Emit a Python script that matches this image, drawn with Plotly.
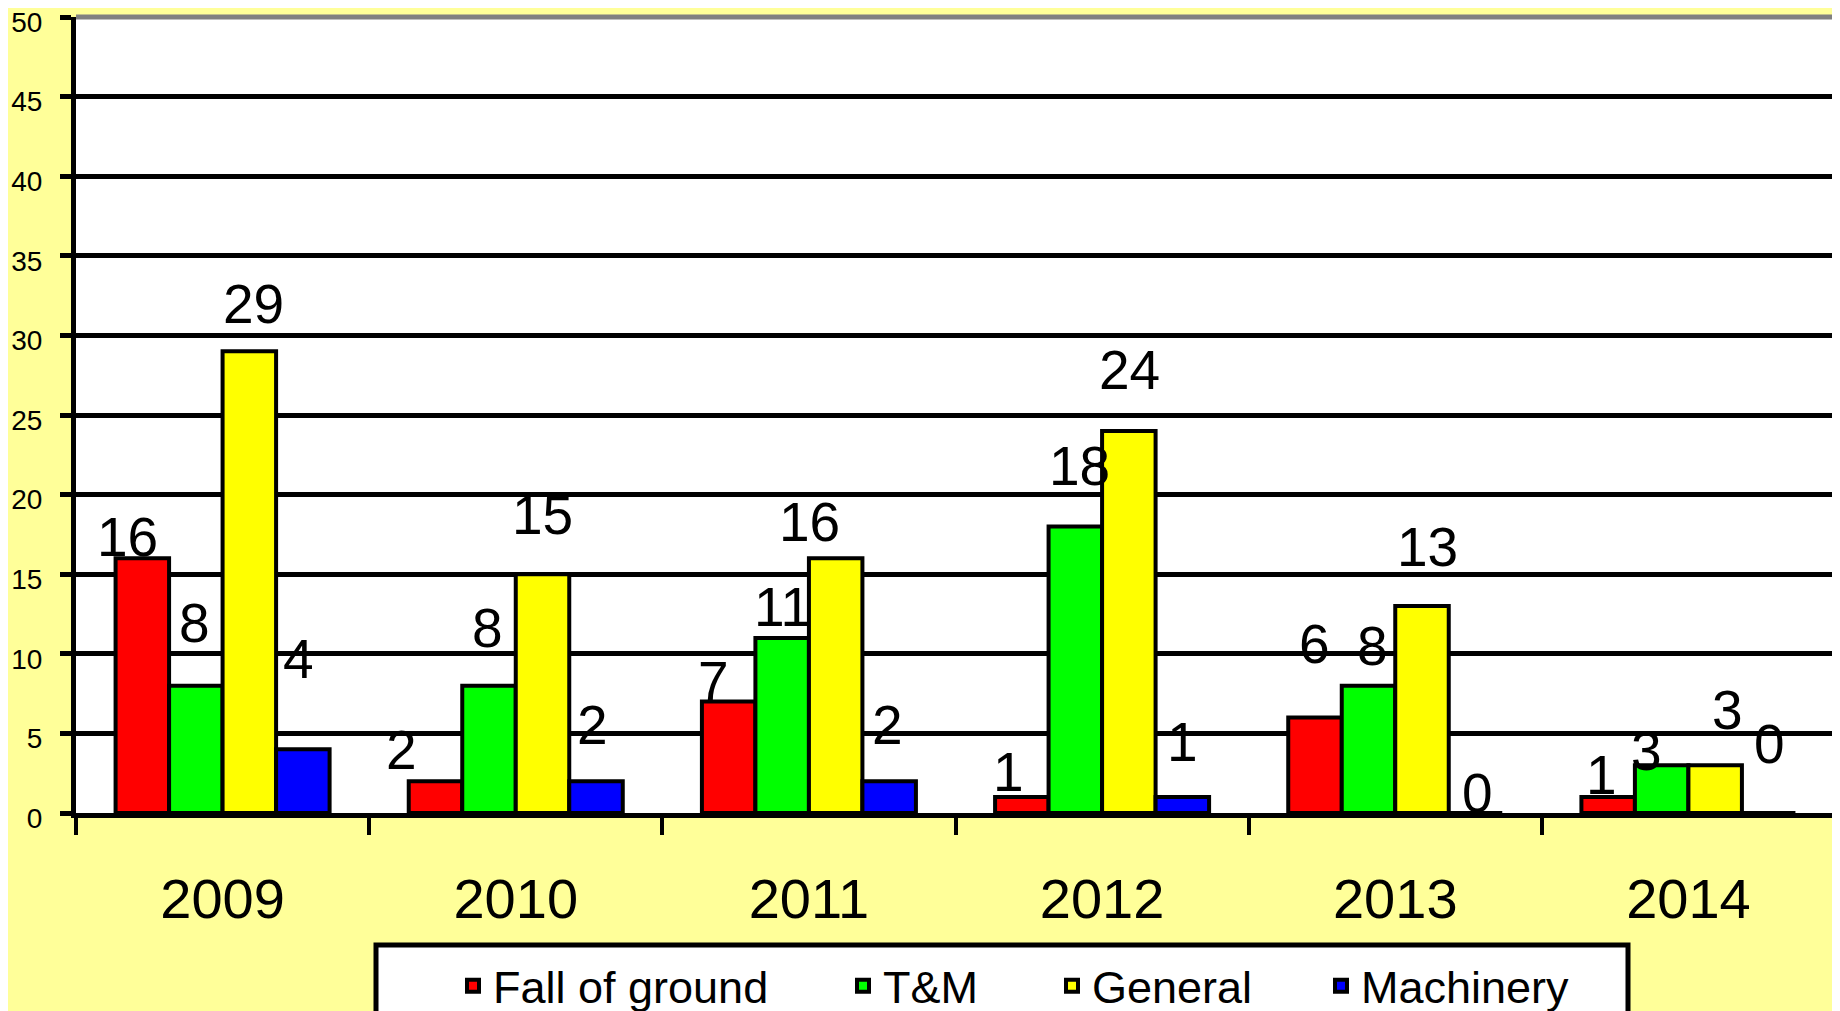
import plotly.graph_objects as go

# Data
years = ["2009", "2010", "2011", "2012", "2013", "2014"]
fall_of_ground = [16, 2, 7, 1, 6, 1]
t_and_m = [8, 8, 11, 18, 8, 3]
general = [29, 15, 16, 24, 13, 3]
machinery = [4, 2, 2, 1, 0, 0]

series_names = ["Fall of ground", "T&M", "General", "Machinery"]
series_values = [fall_of_ground, t_and_m, general, machinery]
series_colors = ["#FF0000", "#00FF00", "#FFFF00", "#0000FF"]

# label nudges in px (Excel placed them by hand)
label_dx = [[-15, -34, -15, -13, 0, -7],
            [-1, -1, 0, 4, 4, -15],
            [4, 0, -26, 1, 5, 12],
            [-4, -4, -2, 0, 2, 1]]
label_up = [[21, 31, 21, 25, 73, 22],
            [63, 58, 31, 60, 40, 14],
            [47, 59, 36, 61, 59, 55],
            [90, 56, 56, 55, 20, 69]]

# legend entry text starts (page px), the legend is spread like Excel's
legend_text_x = [493, 883, 1092, 1361]

font = "Liberation Sans, Arial, sans-serif"
W, H = 1840, 1011
ml, mr, mt, mb = 68, 13, 9, 206   # page has an 8px body margin
plot_w = W - ml - mr
plot_h = H - mt - mb
bargap = 0.27
cat_w = plot_w / len(years)
bar_w = cat_w * (1 - bargap) / 4


def px_x(x):  # page px -> paper x
    return (x - 8 - ml) / plot_w


def px_y(y):  # page px -> paper y
    return (H - mb - (y - 8)) / plot_h


fig = go.Figure()
legend_ids = ["legend", "legend2", "legend3", "legend4"]
for name, vals, col, lg in zip(series_names, series_values, series_colors, legend_ids):
    fig.add_trace(go.Bar(
        x=years,
        y=vals,
        name=name,
        legend=lg,
        marker=dict(color=col, line=dict(color="black", width=4)),
    ))

# Data labels (x given as category index, since the years look numeric)
annotations = []
for s, vals in enumerate(series_values):
    shift = (s - 1.5) * bar_w
    for i, v in enumerate(vals):
        annotations.append(dict(
            x=i, y=v, text=str(v), showarrow=False,
            xshift=shift + label_dx[s][i], yshift=label_up[s][i],
            font=dict(family=font, size=55, color="black"),
        ))

legend_style = dict(
    orientation="h",
    xanchor="left",
    y=px_y(950), yanchor="top",
    bgcolor="rgba(0,0,0,0)",
    borderwidth=0,
    font=dict(family=font, size=45, color="black"),
    itemwidth=30,
)
legends = {}
for lg, tx in zip(legend_ids, legend_text_x):
    legends[lg] = dict(legend_style, x=px_x(tx - 40))

fig.update_layout(
    width=W,
    height=H,
    paper_bgcolor="#FFFF99",
    plot_bgcolor="white",
    barmode="group",
    bargap=bargap,
    bargroupgap=0,
    margin=dict(l=ml, r=mr, t=mt, b=mb, autoexpand=False),
    font=dict(family=font, color="black"),
    annotations=annotations,
    showlegend=True,
    xaxis=dict(
        type="category",
        range=[-0.5, len(years) - 0.5],
        showline=True, linecolor="black", linewidth=5,
        ticks="outside", tickson="boundaries", ticklen=17, tickwidth=4, tickcolor="black",
        tickfont=dict(family=font, size=56, color="black"),
        ticklabelstandoff=33,
        showgrid=False,
    ),
    yaxis=dict(
        range=[0, 50],
        dtick=5,
        showline=True, linecolor="black", linewidth=5,
        ticks="outside", ticklen=11, tickwidth=5, tickcolor="black",
        tickfont=dict(family=font, size=28, color="black"),
        ticklabelstandoff=12,
        ticklabelshift=5,
        ticklabeloverflow="allow",
        showgrid=True, gridcolor="black", gridwidth=5,
        zeroline=False,
    ),
    shapes=[
        # grey plot border on top and right
        dict(type="line", xref="paper", yref="paper", x0=0, x1=1, y0=1, y1=1,
             line=dict(color="#808080", width=5)),
        dict(type="line", xref="paper", yref="paper", x0=1, x1=1, y0=0, y1=1,
             line=dict(color="#808080", width=5)),
        # legend frame
        dict(type="rect", xref="paper", yref="paper",
             x0=px_x(376), x1=px_x(1628), y0=px_y(945), y1=px_y(1060),
             fillcolor="white", line=dict(color="black", width=5), layer="below"),
    ],
    **legends,
)

fig.write_html("out.html")
